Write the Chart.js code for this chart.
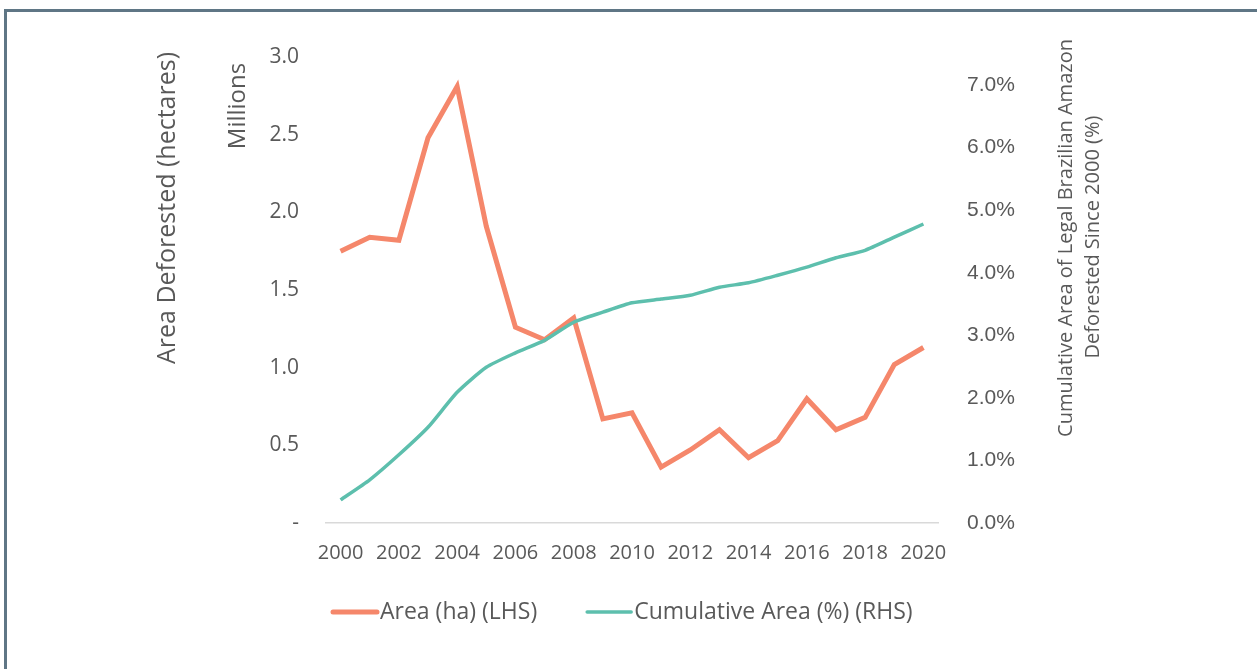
<!DOCTYPE html>
<html>
<head>
<meta charset="utf-8">
<script src="https://cdn.jsdelivr.net/npm/chart.js@4.4.1/dist/chart.umd.min.js"></script>
<style>
  html, body { margin: 0; padding: 0; background: #fff; }
  #wrap { position: relative; width: 1257px; height: 669px; }
  #frame { position: absolute; left: 4px; top: 9px; right: -10px; bottom: -10px;
           border-top: 3px solid #5f7685; border-left: 3px solid #5f7685; }
  canvas { position: absolute; left: 0; top: 0; }
</style>
</head>
<body>
<div id="wrap">
  <div id="frame"></div>
  <canvas id="myChart" width="1257" height="669"></canvas>
</div>
<script>
const years = ["2000", "2001", "2002", "2003", "2004", "2005", "2006", "2007", "2008", "2009", "2010",
  "2011", "2012", "2013", "2014", "2015", "2016", "2017", "2018", "2019", "2020"];
// deforested area, millions of hectares (LHS)
const areaMillions = [1.75, 1.84, 1.82, 2.48, 2.81, 1.91, 1.26, 1.18, 1.32, 0.67, 0.71,
  0.36, 0.47, 0.60, 0.42, 0.53, 0.80, 0.60, 0.68, 1.02, 1.13];
// cumulative share of the legal amazon deforested since 2000, % (RHS)
const cumulativePct = [0.37, 0.69, 1.09, 1.53, 2.09, 2.49, 2.72, 2.92, 3.21, 3.37, 3.52,
  3.58, 3.64, 3.77, 3.84, 3.96, 4.09, 4.24, 4.36, 4.57, 4.78];
const leftTitle = "Area Deforested (hectares)";
const leftUnit = "Millions";
const rightTitle = ["Cumulative Area of Legal Brazilian Amazon", "Deforested Since 2000 (%)"];

const grey = "#595959";
const orange = "#f5876b";
const teal = "#5dbfad";

// axis titles read bottom-to-top on both sides, and the legend has the
// text hugging the swatch, so both are drawn by hand
const extras = {
  id: "extras",
  afterDraw(chart) {
    const ctx = chart.ctx;
    const put = (text, x, y, font) => {
      ctx.save();
      ctx.translate(x, y);
      ctx.rotate(-Math.PI / 2);
      ctx.font = font;
      ctx.fillStyle = grey;
      ctx.textAlign = "center";
      ctx.textBaseline = "middle";
      ctx.fillText(text, 0, 0);
      ctx.restore();
    };
    put(leftTitle, 168, 208, "25px 'Open Sans'");
    put(leftUnit, 238, 106, "24px 'Open Sans'");
    put(rightTitle[0], 1066, 238, "20px 'Open Sans'");
    put(rightTitle[1], 1093, 237, "20px 'Open Sans'");

    // legend
    ctx.save();
    ctx.font = "23px 'Open Sans'";
    ctx.textBaseline = "middle";
    ctx.fillStyle = grey;
    let x = 333;
    const y = 612;
    chart.data.datasets.forEach(ds => {
      ctx.strokeStyle = ds.borderColor;
      ctx.lineWidth = ds.borderWidth;
      ctx.lineCap = "round";
      ctx.beginPath();
      ctx.moveTo(x, y);
      ctx.lineTo(x + 44, y);
      ctx.stroke();
      x += 47;
      ctx.fillText(ds.label, x, y);
      x += ctx.measureText(ds.label).width + 50;
    });
    ctx.restore();
  }
};

new Chart(document.getElementById("myChart"), {
  type: "line",
  data: {
    labels: years,
    datasets: [
      {
        label: "Area (ha) (LHS)",
        data: areaMillions,
        yAxisID: "y",
        borderColor: orange,
        backgroundColor: orange,
        borderWidth: 5,
        pointRadius: 0,
        tension: 0,
        order: 1
      },
      {
        label: "Cumulative Area (%) (RHS)",
        data: cumulativePct,
        yAxisID: "y1",
        borderColor: teal,
        backgroundColor: teal,
        borderWidth: 3.5,
        pointRadius: 0,
        tension: 0.2,
        order: 0
      }
    ]
  },
  options: {
    responsive: false,
    animation: false,
    layout: { padding: { top: 57, bottom: 0, left: 0, right: 0 } },
    plugins: {
      tooltip: { enabled: false },
      legend: { display: false }
    },
    scales: {
      x: {
        offset: true,
        grid: { display: false, drawTicks: false },
        border: { display: true, color: "#d9d9d9", width: 1.5 },
        ticks: {
          color: grey,
          font: { family: "'Open Sans'", size: 20 },
          padding: 18,
          maxRotation: 0,
          autoSkip: false,
          callback(v, i) { return i % 2 === 0 ? years[i] : ""; }
        },
        afterFit(scale) { scale.height = 146; }
      },
      y: {
        position: "left",
        min: 0,
        max: 3,
        grid: { display: false, drawTicks: false },
        border: { display: false },
        ticks: {
          stepSize: 0.5,
          color: grey,
          font: { family: "'Open Sans'", size: 21 },
          padding: 27,
          callback(v) { return v === 0 ? "-" : v.toFixed(1); }
        },
        afterFit(scale) { scale.width = 326; }
      },
      y1: {
        position: "right",
        min: 0,
        max: 7.45,
        grid: { display: false, drawTicks: false },
        border: { display: false },
        ticks: {
          stepSize: 1,
          includeBounds: false,
          color: grey,
          font: { family: "'Liberation Sans'", size: 21 },
          padding: 29,
          callback(v) { return v.toFixed(1) + "%"; }
        },
        afterFit(scale) { scale.width = 319; }
      }
    }
  },
  plugins: [extras]
});
</script>
</body>
</html>
